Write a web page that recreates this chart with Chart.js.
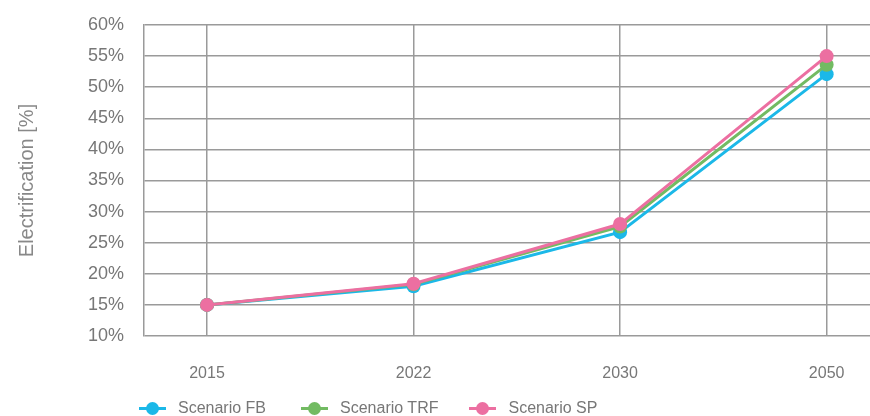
<!DOCTYPE html>
<html>
<head>
<meta charset="utf-8">
<script src="https://cdn.jsdelivr.net/npm/chart.js@4.4.1/dist/chart.umd.min.js"></script>
<style>
    html, body { margin: 0; padding: 0; background: #fff; }
    #wrap { position: relative; width: 870px; height: 416px; }
    #legend {
        position: absolute; left: 139px; top: 399px;
        display: flex; align-items: center;
        font-family: "Liberation Sans", Arial, sans-serif; font-size: 16px; color: #777;
    }
    .item { display: flex; align-items: center; margin-right: 35px; }
    .item:nth-child(2) { margin-right: 31px; }
    .mark { position: relative; width: 27px; height: 14px; margin-right: 12px; }
    .mark .ln { position: absolute; left: 0; right: 0; top: 6px; height: 3px; }
    .mark .dot { position: absolute; left: 7px; top: 1px; width: 13px; height: 13px; border-radius: 50%; }
</style>
</head>
<body>
<div id="wrap">
    <canvas id="electrificationChart" width="870" height="416"></canvas>
    <div id="legend"></div>
</div>
<script>
const years = ["2015", "2022", "2030", "2050"];
const scenarioFB = [15, 18.0, 26.7, 52.1];
const scenarioTRF = [15, 18.3, 27.6, 53.6];
const scenarioSP = [15, 18.4, 28.0, 55.0];

const seriesNames = ["Scenario FB", "Scenario TRF", "Scenario SP"];
const seriesColors = ["#1bb8e8", "#72bb62", "#ec6fa1"];
const gridColor = "#9a9a9a";
const textColor = "#777";
const fontFamily = "'Liberation Sans', Arial, sans-serif";

function toPoints(values) {
    return values.map((v, i) => ({ x: i, y: v }));
}

const seriesValues = [scenarioFB, scenarioTRF, scenarioSP];
const datasets = seriesValues.map((values, i) => ({
    label: seriesNames[i],
    data: toPoints(values),
    borderColor: seriesColors[i],
    backgroundColor: seriesColors[i],
    borderWidth: 3,
    pointRadius: 7,
    pointBorderWidth: 0,
    tension: 0,
    // pink line sits on top, blue underneath
    order: seriesValues.length - i
}));

const ctx = document.getElementById("electrificationChart").getContext("2d");
const chart = new Chart(ctx, {
    type: "line",
    data: { datasets },
    options: {
        responsive: false,
        animation: false,
        // plot runs right up to the canvas edge
        layout: { autoPadding: false, padding: { top: 25, right: 0, bottom: 30, left: 0 } },
        plugins: {
            legend: { display: false },
            tooltip: { enabled: false }
        },
        scales: {
            x: {
                type: "linear",
                bounds: "data",
                min: -0.305,
                max: 3.21,
                // one tick per year, at the category index
                afterBuildTicks: scale => { scale.ticks = years.map((_, i) => ({ value: i })); },
                afterFit: scale => {
                    scale.height = 50;
                    scale.paddingLeft = 0;
                    scale.paddingRight = 0;
                },
                grid: { color: gridColor, lineWidth: 1.5, drawTicks: false },
                border: { display: false },
                ticks: {
                    padding: 28,
                    color: textColor,
                    font: { family: fontFamily, size: 16 },
                    maxRotation: 0,
                    callback: v => years[v] !== undefined ? years[v] : ""
                }
            },
            y: {
                min: 10,
                max: 60,
                afterFit: scale => {
                    scale.width = 144;
                    scale.paddingTop = 0;
                    scale.paddingBottom = 0;
                },
                grid: { color: gridColor, lineWidth: 1.5, drawTicks: false },
                border: { color: gridColor, width: 1.5 },
                ticks: {
                    stepSize: 5,
                    padding: 20,
                    color: textColor,
                    font: { family: fontFamily, size: 18 },
                    callback: v => v + "%"
                },
                title: {
                    display: true,
                    text: "Electrification [%]",
                    color: "#888",
                    font: { family: fontFamily, size: 20 },
                    padding: { top: 15, bottom: 0 }
                }
            }
        }
    }
});

// legend built from the chart's datasets
const legendDiv = document.getElementById("legend");
chart.data.datasets.forEach(ds => {
    const item = document.createElement("div");
    item.className = "item";
    item.innerHTML = `<span class="mark"><span class="ln" style="background:${ds.borderColor}"></span>` +
        `<span class="dot" style="background:${ds.borderColor}"></span></span><span>${ds.label}</span>`;
    legendDiv.appendChild(item);
});
</script>
</body>
</html>
